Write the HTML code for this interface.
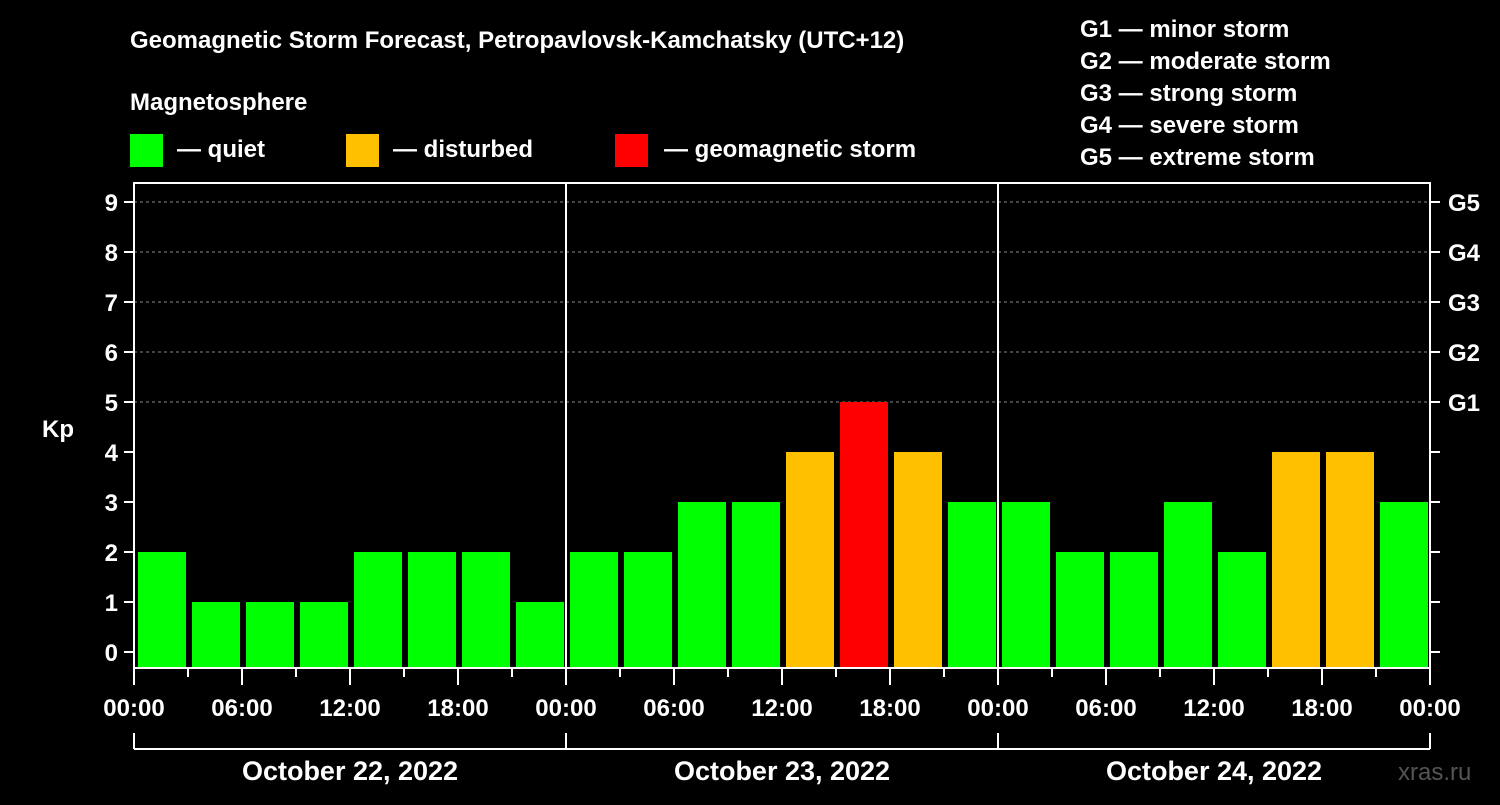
<!DOCTYPE html>
<html><head><meta charset="utf-8"><style>
body{margin:0;background:#000;width:1500px;height:800px;overflow:hidden}
svg text{font-family:"Liberation Sans",sans-serif;font-weight:bold;fill:#fff}
</style></head><body>
<svg id="c" width="1500" height="800">
<text x="130" y="48" font-size="24">Geomagnetic Storm Forecast, Petropavlovsk-Kamchatsky (UTC+12)</text>
<text x="130" y="110" font-size="24">Magnetosphere</text>
<g>
<rect x="130" y="134" width="33" height="33" fill="#00ff00"/>
<text x="177" y="157" font-size="24">— quiet</text>
<rect x="346" y="134" width="33" height="33" fill="#ffc000"/>
<text x="393" y="157" font-size="24">— disturbed</text>
<rect x="615" y="134" width="33" height="33" fill="#ff0000"/>
<text x="664" y="157" font-size="24">— geomagnetic storm</text>
</g>
<g font-size="24">
<text x="1080" y="37">G1 — minor storm</text>
<text x="1080" y="69">G2 — moderate storm</text>
<text x="1080" y="101">G3 — strong storm</text>
<text x="1080" y="133">G4 — severe storm</text>
<text x="1080" y="165">G5 — extreme storm</text>
</g>
<text x="42" y="437" font-size="24">Kp</text>
<text x="1398" y="780" font-size="24" fill="#555" style="fill:#555;font-weight:normal">xras.ru</text>
<g id="plot"></g>
</svg>
<script>
const kpValues=[2,1,1,1,2,2,2,1, 2,2,3,3,4,5,4,3, 3,2,2,3,2,4,4,3];
const dayLabels=["October 22, 2022","October 23, 2022","October 24, 2022"];
const hourLabels=["00:00","06:00","12:00","18:00"];
const gLabels=["G1","G2","G3","G4","G5"];
const NS="http://www.w3.org/2000/svg";
const g=document.getElementById('plot');
const L=134,R=1430,T=183,B=668,slot=(R-L)/kpValues.length;
const y=v=>652-v*50;
const x=i=>L+i*slot;
function el(t,a){const e=document.createElementNS(NS,t);for(const k in a)e.setAttribute(k,a[k]);g.appendChild(e);return e;}
for(let v=5;v<=9;v++){const e=el('line',{x1:L,x2:R,y1:y(v),y2:y(v),stroke:'#888','stroke-dasharray':'3,3'});

}
kpValues.forEach((v,i)=>{const c=v>=5?'#ff0000':v>=4?'#ffc000':'#00ff00';
const r=el('rect',{x:x(i)+4,y:y(v),width:slot-6,height:B-y(v),fill:c});

});
const frame=el('rect',{x:L,y:T,width:R-L,height:B-T,fill:'none',stroke:'#fff','stroke-width':2});


for(let d=1;d<dayLabels.length;d++){const e=el('line',{x1:x(d*8),x2:x(d*8),y1:T,y2:B,stroke:'#fff','stroke-width':2});

}
for(let v=0;v<=9;v++){
el('line',{x1:L-10,x2:L,y1:y(v),y2:y(v),stroke:'#fff','stroke-width':2});
el('line',{x1:R,x2:R+10,y1:y(v),y2:y(v),stroke:'#fff','stroke-width':2});
const t=el('text',{x:L-16,y:y(v)+9,'text-anchor':'end','font-size':24});t.textContent=v;

}
gLabels.forEach((s,k)=>{const t=el('text',{x:R+18,y:y(k+5)+9,'font-size':24});t.textContent=s;

});
for(let i=0;i<=kpValues.length;i++){const maj=i%2==0;
el('line',{x1:x(i),x2:x(i),y1:B,y2:B+(maj?17:9),stroke:'#fff','stroke-width':2});
if(maj){const t=el('text',{x:x(i),y:716,'text-anchor':'middle','font-size':24});t.textContent=hourLabels[(i/2)%4];

}}
el('line',{x1:L,x2:R,y1:749,y2:749,stroke:'#fff','stroke-width':2});
for(let d=0;d<=dayLabels.length;d++)el('line',{x1:x(d*8),x2:x(d*8),y1:733,y2:749,stroke:'#fff','stroke-width':2});
dayLabels.forEach((s,d)=>{const t=el('text',{x:(x(d*8)+x(d*8+8))/2,y:780,'text-anchor':'middle','font-size':27});t.textContent=s;

});
</script>
</body></html>
